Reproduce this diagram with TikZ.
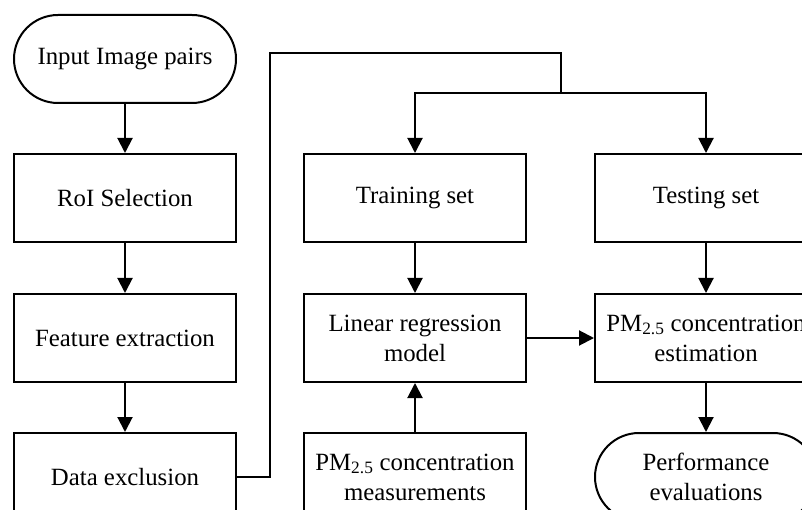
\documentclass[tikz,border=0pt]{standalone}
\usepackage{fontspec}
\setmainfont{Liberation Serif}
\usetikzlibrary{arrows.meta,positioning,calc,shapes.misc}

\begin{document}
\begin{tikzpicture}[>={Triangle[length=15pt,width=15pt]},node distance=49pt,line width=2pt]
  \tikzstyle{box}=[draw,minimum width=222pt,minimum height=88pt,align=center,inner sep=0pt,font=\fontsize{24.8pt}{30pt}\selectfont]
  \tikzstyle{term}=[box,rounded rectangle]
  \clip (0,0) rectangle (802pt,-510pt);
  \node[term] (input) at (125pt,-59pt) {Input Image pairs};
  \node[box,below=of input] (roi) {RoI Selection};
  \node[box,below=50pt of roi] (feat) {Feature extraction};
  \node[box,below=of feat] (excl) {Data exclusion};
  \node[box,right=66pt of roi] (train) {Training set};
  \node[box,right=67pt of train] (test) {Testing set};
  \node[box,below=50pt of train] (linreg) {Linear regression\\model};
  \node[box,below=50pt of test] (estim) {PM\textsubscript{2.5} concentration\\estimation};
  \node[box,below=of linreg] (meas) {PM\textsubscript{2.5} concentration\\measurements};
  \node[term,below=of estim] (perf) {Performance\\evaluations};
  \coordinate (split) at ($(train.north)!0.5!(test.north)+(0,60pt)$);
  \draw[->] (input) -- (roi);
  \draw[->] (roi) -- (feat);
  \draw[->] (feat) -- (excl);
  \draw (excl.east) -- ++(33pt,0) |- ($(split)+(0,40pt)$) -- (split);
  \draw[->] (split) -| (train);
  \draw[->] (split) -| (test);
  \draw[->] (train) -- (linreg);
  \draw[->] (test) -- (estim);
  \draw[->] (meas) -- (linreg);
  \draw[->] (linreg) -- (estim);
  \draw[->] (estim) -- (perf);
\end{tikzpicture}
\end{document}
